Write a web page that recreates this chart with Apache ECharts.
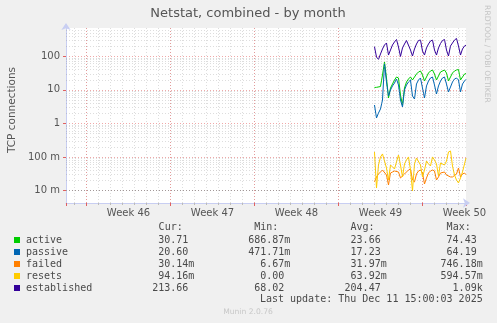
<!DOCTYPE html>
<html><head><meta charset="utf-8">
<script src="https://cdn.jsdelivr.net/npm/echarts@6/dist/echarts.min.js"></script>
<style>html,body{margin:0;padding:0;background:#f0f0f0}#c{width:497px;height:323px}</style>
</head><body><div id="c"></div>
<script>
// time in days since Monday 10 Nov 2025 00:00 (start of Week 46)
const xMin = -1.708, xMax = 31.625;
const sampleStart = 24, sampleStep = 1 / 6; // 4-hour samples from Thu 4 Dec
const weekLabels = ['Week 46', 'Week 47', 'Week 48', 'Week 49', 'Week 50'];

const active = [11.8, 11.9, 12.2, 12.6, 27.8, 67.7, 22.6, 5.74, 11.4, 15.0, 19.7, 24.2, 22.6, 7.05, 3.55, 11.4, 17.2, 21.1, 24.2, 19.7, 24.2, 29.7, 34.1, 36.5, 27.8, 18.4, 24.2, 31.8, 36.5, 39.1, 29.7, 19.7, 25.9, 34.1, 36.5, 39.1, 31.8, 18.4, 24.2, 31.8, 36.5, 39.1, 40.5, 19.7, 24.2, 29.7, 30.71];
const passive = [3.55, 1.46, 2.05, 2.70, 5.00, 59.0, 17.2, 6.58, 9.93, 13.1, 16.0, 21.1, 14.0, 5.00, 3.10, 9.93, 14.0, 17.2, 19.7, 6.58, 5.36, 15.0, 19.7, 22.6, 11.4, 5.74, 13.1, 18.4, 22.6, 24.2, 14.0, 7.55, 13.1, 18.4, 22.6, 24.2, 15.0, 8.66, 12.2, 17.2, 21.1, 22.6, 19.7, 8.66, 15.0, 18.4, 20.6];
const failed = [0.0185, 0.0256, 0.0314, 0.0360, 0.0413, 0.0413, 0.0293, 0.0148, 0.0336, 0.0360, 0.0386, 0.0413, 0.0360, 0.0239, 0.0239, 0.0314, 0.0360, 0.0413, 0.0442, 0.0208, 0.0182, 0.0314, 0.0386, 0.0413, 0.0336, 0.0158, 0.0239, 0.0336, 0.0386, 0.0413, 0.0386, 0.0208, 0.0256, 0.0336, 0.0360, 0.0360, 0.0293, 0.0274, 0.0256, 0.0256, 0.0274, 0.0314, 0.0474, 0.0256, 0.0314, 0.0336, 0.0301];
const resets = [0.142, 0.0120, 0.0582, 0.101, 0.124, 0.142, 0.0474, 0.0208, 0.0582, 0.0507, 0.0442, 0.0715, 0.115, 0.0582, 0.0256, 0.0623, 0.082, 0.101, 0.0413, 0.0098, 0.0623, 0.094, 0.082, 0.0582, 0.0256, 0.0413, 0.0765, 0.0623, 0.0543, 0.101, 0.082, 0.0623, 0.0274, 0.0667, 0.0582, 0.0582, 0.0765, 0.142, 0.152, 0.0543, 0.0293, 0.0208, 0.0170, 0.0239, 0.0360, 0.0623, 0.0942];
const established = [193, 95, 81, 117, 165, 217, 249, 109, 154, 217, 267, 316, 189, 99, 177, 232, 295, 305, 154, 102, 165, 232, 295, 305, 144, 109, 177, 232, 285, 305, 154, 109, 177, 240, 295, 316, 154, 102, 203, 249, 305, 339, 203, 109, 165, 203, 214];

const names = ['active', 'passive', 'failed', 'resets', 'established'];
const colors = ['#00CC00', '#0066B3', '#FF8000', '#FFCC00', '#330099'];
const curCol = ['30.71 ', '20.60 ', '30.14m', '94.16m', '213.66 '];
const minCol = ['686.87m', '471.71m', '6.67m', '0.00 ', '68.02 '];
const avgCol = ['23.66 ', '17.23 ', '31.97m', '63.92m', '204.47 '];
const maxCol = ['74.43 ', '64.19 ', '746.18m', '594.57m', '1.09k'];
const lastUpdate = 'Last update: Thu Dec 11 15:00:03 2025';

const yMin = 0.0043, yMax = 695;
const allSeries = [active, passive, failed, resets, established];

function times(n) {
  const t = [];
  for (let i = 0; i < n; i++) t.push(i === n - 1 ? xMax : sampleStart + i * sampleStep);
  return t;
}

const minorLines = [];
for (let e = -3; e <= 2; e++) {
  for (let m = 2; m <= 9; m++) {
    const v = m * Math.pow(10, e);
    if (v > yMin && v < yMax) minorLines.push({ yAxis: v });
  }
}

const chart = echarts.init(document.getElementById('c'), null, { renderer: 'canvas' });
const axisCol = '#c8cef2';
const labFont = { fontFamily: 'DejaVu Sans', fontSize: 10, color: '#555' };
const minorGrid = { color: 'rgba(150,150,150,0.32)', type: [1, 2], width: 1 };
const majorGrid = { color: 'rgba(230,110,110,0.6)', type: [1, 2], width: 1 };

const series = [{
  type: 'line', data: [], silent: true, z: 1,
  markLine: { silent: true, symbol: 'none', label: { show: false }, lineStyle: minorGrid, data: minorLines, animation: false }
}];
names.forEach((n, i) => {
  const t = times(allSeries[i].length);
  series.push({
    name: n, type: 'line', showSymbol: false, symbol: 'none', z: 3,
    lineStyle: { color: colors[i], width: 1 }, itemStyle: { color: colors[i] },
    data: allSeries[i].map((v, k) => [t[k], v])
  });
});

const mono = '10px "DejaVu Sans Mono"';
const txtCol = '#4a4a4a';
const graphic = [
  { type: 'text', x: 248, y: 14, style: { text: 'Netstat, combined - by month', font: '13px "DejaVu Sans"', fill: '#555', align: 'center', verticalAlign: 'middle' } },
  { type: 'text', x: 12, y: 110, rotation: Math.PI / 2, style: { text: 'TCP connections', font: '10.5px "DejaVu Sans"', fill: '#555', align: 'center', verticalAlign: 'middle' } },
  { type: 'text', x: 487, y: 54, rotation: -Math.PI / 2, style: { text: 'RRDTOOL / TOBI OETIKER', font: '7.6px "DejaVu Sans"', fill: '#c4c4c4', align: 'center', verticalAlign: 'middle' } },
  { type: 'text', x: 248, y: 312, style: { text: 'Munin 2.0.76', font: '7.6px "DejaVu Sans"', fill: '#c8c8c8', align: 'center', verticalAlign: 'middle' } },
  { type: 'text', x: 182.7, y: 227, style: { text: 'Cur:', font: mono, fill: txtCol, align: 'right', verticalAlign: 'middle' } },
  { type: 'text', x: 278.3, y: 227, style: { text: 'Min:', font: mono, fill: txtCol, align: 'right', verticalAlign: 'middle' } },
  { type: 'text', x: 374.5, y: 227, style: { text: 'Avg:', font: mono, fill: txtCol, align: 'right', verticalAlign: 'middle' } },
  { type: 'text', x: 470.7, y: 227, style: { text: 'Max:', font: mono, fill: txtCol, align: 'right', verticalAlign: 'middle' } },
  { type: 'text', x: 482.7, y: 299.5, style: { text: lastUpdate, font: mono, fill: txtCol, align: 'right', verticalAlign: 'middle' } }
];
names.forEach((n, i) => {
  const y = 240 + i * 12;
  graphic.push({ type: 'rect', shape: { x: 14, y: y - 3, width: 6, height: 6 }, style: { fill: colors[i] } });
  graphic.push({ type: 'text', x: 26, y: y, style: { text: n, font: mono, fill: txtCol, align: 'left', verticalAlign: 'middle' } });
  [[curCol, 194.3], [minCol, 290.3], [avgCol, 386.7], [maxCol, 482.7]].forEach(([col, xr]) => {
    graphic.push({ type: 'text', x: xr, y: y, style: { text: col[i], font: mono, fill: txtCol, align: 'right', verticalAlign: 'middle' } });
  });
});

chart.setOption({
  animation: false,
  backgroundColor: '#f0f0f0',
  grid: { left: 66, right: 31, top: 28, bottom: 120, show: true, backgroundColor: '#ffffff', borderWidth: 0 },
  xAxis: [
    { type: 'value', position: 'bottom', min: xMin, max: xMax, minInterval: 1, maxInterval: 1,
      axisLine: { show: true, onZero: false, lineStyle: { color: axisCol, width: 1 }, symbol: ['none', 'arrow'], symbolSize: [7, 7], symbolOffset: [0, 4] },
      axisTick: { show: true, length: 2, lineStyle: { color: '#bbb' } },
      axisLabel: { show: false },
      splitLine: { show: true, showMinLine: false, showMaxLine: false, lineStyle: minorGrid } },
    { type: 'value', position: 'bottom', min: xMin, max: xMax, minInterval: 7, maxInterval: 7,
      axisLine: { show: false, onZero: false }, axisTick: { show: true, length: 3, lineStyle: { color: '#e06060' } },
      axisLabel: { show: false },
      splitLine: { show: true, showMinLine: false, showMaxLine: false, lineStyle: majorGrid } },
    { type: 'value', position: 'bottom', min: xMin - 3.5, max: xMax - 3.5, minInterval: 7, maxInterval: 7,
      axisLine: { show: false, onZero: false }, axisTick: { show: false }, splitLine: { show: false },
      axisLabel: { show: true, margin: 5, showMinLabel: false, showMaxLabel: false, ...labFont,
        formatter: v => { const k = Math.round(v / 7); return Math.abs(v - k * 7) < 1e-6 && weekLabels[k] ? weekLabels[k] : ''; } } }
  ],
  yAxis: {
    type: 'log', logBase: 10, min: yMin, max: yMax,
    axisLine: { show: true, onZero: false, lineStyle: { color: axisCol, width: 1 }, symbol: ['none', 'arrow'], symbolSize: [7, 7], symbolOffset: [0, 5] },
    axisTick: { show: true, length: 3, lineStyle: { color: '#e06060' } },
    axisLabel: { show: true, margin: 6, showMinLabel: false, showMaxLabel: false, ...labFont,
      formatter: v => {
        const e = Math.round(Math.log10(v));
        if (Math.abs(Math.log10(v) - e) > 1e-6) return '';
        if (e >= 0) return String(Math.pow(10, e));
        if (e === -1) return '100 m';
        if (e === -2) return '10 m';
        if (e === -3) return '1 m';
        return '';
      } },
    splitLine: { show: true, showMinLine: false, showMaxLine: false, lineStyle: majorGrid }
  },
  series: series,
  graphic: graphic
});
</script></body></html>
